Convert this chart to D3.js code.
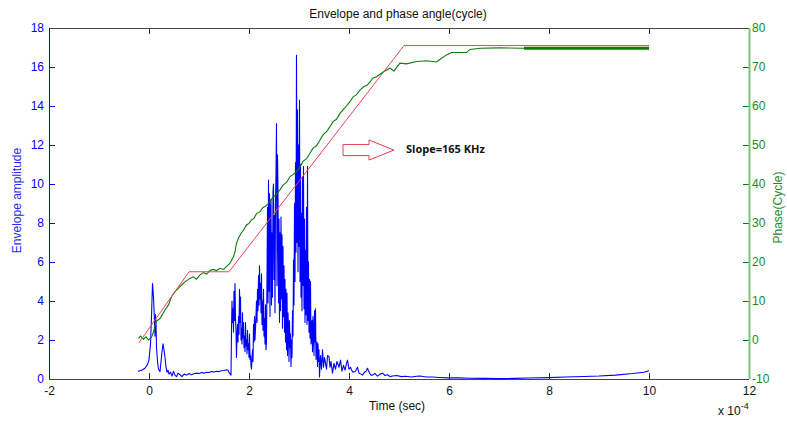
<!DOCTYPE html>
<html><head><meta charset="utf-8">
<script src="https://cdn.jsdelivr.net/npm/d3@7"></script>
<style>
html,body{margin:0;padding:0;background:#fff;}
svg{display:block;font-family:"Liberation Sans",Arial,sans-serif;}
</style></head>
<body>
<svg id="chart" width="787" height="426"></svg>
<script>
// ---------- data (time in units of 1e-4 s) ----------
const xTicks = [-2,0,2,4,6,8,10,12];
const yLeftTicks = [0,2,4,6,8,10,12,14,16,18];
const yRightTicks = [-10,0,10,20,30,40,50,60,70,80];

// envelope amplitude (blue, left axis)
const envT = [-0.22,-0.15,-0.08,-0.03,0.00,0.03,0.05,0.07,0.09,0.10,0.12,0.13,0.14,0.15,0.17,0.19,0.22,0.24,0.26,0.28,0.30,0.32,0.34,0.36,0.38,0.40,0.43,0.46,0.49,0.52,0.55,0.58,0.62,0.66,0.70,0.75,0.80,0.85,0.90,0.95,1.00,1.05,1.10,1.15,1.20,1.25,1.30,1.35,1.40,1.45,1.50,1.55,1.58,1.61,
  1.64,1.65,1.66,1.67,1.68,1.69,1.70,1.71,1.72,1.73,1.74,1.75,1.76,1.77,1.78,1.79,1.80,1.81,1.82,1.83,1.84,1.85,1.86,1.87,1.88,1.89,1.90,1.91,1.92,1.93,1.94,1.95,1.96,1.97,1.98,1.99,
  2.00,2.01,2.02,2.03,2.04,2.05,2.06,2.07,2.08,2.09,2.10,2.11,2.12,2.13,2.14,2.15,2.16,2.17,2.18,2.19,2.20,2.21,2.22,2.23,2.24,2.25,2.26,2.27,2.28,2.29,2.30,2.31,2.32,2.33,2.34,
  2.35,2.36,2.37,2.38,2.39,2.40,2.41,2.42,2.43,2.44,2.45,2.46,2.47,2.48,2.49,2.50,2.51,2.52,2.53,2.54,2.55,2.56,2.57,2.58,2.59,2.60,2.61,2.62,2.63,2.64,2.65,2.66,2.67,2.68,2.69,2.70,2.71,2.72,2.73,2.74,2.75,2.76,2.77,2.78,2.79,2.80,2.81,2.82,2.83,2.84,2.85,2.86,2.87,2.88,2.89,2.90,2.91,2.92,2.93,2.94,2.95,2.96,2.97,2.98,2.99,
  3.00,3.01,3.02,3.03,3.04,3.05,3.06,3.07,3.08,3.09,3.10,3.11,3.12,3.13,3.14,3.15,3.16,3.17,3.18,3.19,3.20,3.21,3.22,3.23,3.24,3.25,3.26,3.27,3.28,3.29,3.30,3.31,3.32,3.33,3.34,3.35,3.36,3.37,3.38,3.39,3.40,3.41,3.43,3.45,3.47,3.49,3.51,3.53,3.55,3.57,3.60,3.62,3.64,3.67,3.70,3.73,3.76,3.80,3.83,3.86,3.89,3.92,3.95,3.97,
  4.00,4.03,4.05,4.08,4.12,4.15,4.17,4.20,4.24,4.27,4.31,4.34,4.37,4.41,4.44,4.47,4.52,4.57,4.62,4.67,4.72,4.77,4.82,4.87,4.95,5.05,5.13,5.25,5.35,5.42,5.55,5.67,5.80,6.00,6.20,6.40,6.70,7.00,7.30,7.60,8.00,8.33,8.70,9.00,9.33,9.67,9.90,10.00];
const envV = [0.38,0.45,0.55,0.75,0.97,1.8,3.2,4.9,4.2,3.6,2.2,3.3,2.9,1.6,0.9,0.5,0.38,0.9,1.4,1.8,1.5,1.1,0.6,0.35,0.45,0.25,0.35,0.15,0.4,0.2,0.12,0.3,0.22,0.12,0.25,0.2,0.28,0.22,0.27,0.3,0.28,0.33,0.3,0.35,0.33,0.38,0.36,0.4,0.38,0.42,0.44,0.47,0.45,0.3,
  0.2,2.5,4.0,2.9,3.6,2.4,4.5,3.0,4.9,3.1,2.5,1.1,2.2,2.8,1.9,3.2,2.3,4.6,2.9,4.2,2.0,2.6,1.8,3.4,2.1,2.9,1.6,2.2,1.4,2.9,1.7,2.0,1.3,2.5,1.5,1.8,
  1.1,2.3,1.0,1.2,0.7,0.5,1.1,1.5,0.9,2.8,1.9,3.2,2.0,2.6,3.3,4.0,2.9,4.6,3.5,5.3,3.8,5.8,4.1,4.9,3.4,5.4,2.8,4.0,2.5,4.6,2.2,3.1,1.8,3.8,1.5,
  2.0,5.2,8.8,3.9,10.2,4.5,9.5,3.2,8.7,9.2,3.8,7.5,4.2,9.6,10.0,5.1,8.4,3.4,9.0,10.5,13.1,4.8,11.5,9.7,3.9,8.2,2.9,7.5,3.5,8.3,4.1,7.4,2.6,6.8,3.2,5.8,2.4,5.1,1.9,4.6,1.5,4.4,1.2,3.4,2.6,0.9,3.0,1.6,2.3,0.64,2.0,1.1,3.5,2.2,6.1,3.8,9.0,5.0,11.1,6.5,16.6,7.0,13.8,5.5,12.0,
  6.8,14.3,5.0,11.0,4.2,8.5,3.5,10.4,4.8,10.9,3.6,8.2,2.9,6.6,3.3,8.8,2.8,10.9,3.0,6.0,2.4,5.1,2.1,5.0,1.8,2.0,3.0,1.4,3.2,2.4,1.2,3.5,1.9,3.6,1.0,1.5,1.9,0.64,1.8,0.9,1.5,0.1,1.2,0.5,1.5,0.6,1.1,0.8,0.5,1.2,1.15,0.6,0.9,0.3,0.8,0.5,0.9,0.6,0.97,0.4,0.7,0.46,0.8,0.97,
  0.5,0.6,0.46,0.35,0.37,0.5,0.6,0.3,0.25,0.2,0.35,0.4,0.55,0.3,0.2,0.2,0.28,0.15,0.25,0.3,0.18,0.22,0.12,0.15,0.18,0.12,0.14,0.1,0.14,0.15,0.1,0.1,0.08,0.06,0.06,0.04,0.03,0.02,0.03,0.05,0.07,0.1,0.13,0.15,0.2,0.28,0.35,0.42];

// measured phase (green, right axis)
const phaseT = [-0.21,-0.17,-0.11,-0.06,-0.01,0.05,0.09,0.14,0.22,0.32,0.39,0.45,0.52,0.59,0.65,0.72,0.82,0.89,0.95,1.02,1.09,1.15,1.22,1.29,1.35,1.42,1.49,1.55,1.62,1.69,
  1.72,1.75,1.80,1.85,1.89,1.95,2.00,2.05,2.10,2.15,2.22,2.28,2.33,2.39,2.44,2.49,2.55,2.62,2.68,2.75,2.82,2.88,2.95,3.02,3.08,3.15,3.22,3.28,3.35,3.42,3.48,3.55,3.62,3.68,3.75,3.82,3.88,3.95,4.02,4.08,4.15,4.22,4.30,4.36,4.42,4.48,4.55,
  4.69,4.82,4.90,5.02,5.15,5.35,5.55,5.75,5.82,5.95,6.05,6.35,6.42,6.62,7.00,7.50,8.00,8.50,9.00,9.50,10.00];
const phaseV = [0.4,1.0,0.2,0.8,0.0,0.7,2.1,4.7,5.5,7.7,9.0,11.1,12.4,13.3,14.1,14.9,15.8,16.2,15.6,16.7,17.3,16.9,17.8,18.1,17.8,18.4,18.1,18.8,19.7,21.4,
  22.6,24.8,26.4,27.5,28.2,29.5,29.9,30.8,31.2,32.4,32.9,34.0,34.3,35.0,36.0,36.7,37.4,38.5,39.7,40.4,41.9,42.4,43.2,44.4,45.8,46.5,47.9,49.2,49.8,51.3,52.6,53.4,54.7,56.0,56.6,58.1,59.0,60.0,61.1,62.3,62.9,64.1,65.0,65.3,66.2,67.2,67.5,
  68.8,69.7,69.0,71.0,70.8,71.4,71.6,71.3,72.0,73.1,73.7,73.7,74.5,74.8,74.9,74.8,74.8,74.8,74.8,74.8,74.8];
const phaseThickFrom = 7.5;

// linear phase model (red, right axis)
const modelT = [-0.2,0.8,1.6,5.1,10.0];
const modelV = [-0.7,17.5,17.5,75.5,75.5];

// annotation
const slopeText = "Slope=165 KHz";
const arrowAt = {t0:3.88, t1:4.4, t2:4.9, v:11.74};

// ---------- chart ----------
const svg = d3.select("#chart");
const L=49,R=749,T=28,B=379;
const x = d3.scaleLinear().domain([-2,12]).range([L,R]);
const yL = d3.scaleLinear().domain([0,18]).range([B,T]);
const yR = d3.scaleLinear().domain([-10,80]).range([B,T]);
const font = '"Liberation Sans",Arial,sans-serif';
const fmt = d => String(d);

// title
svg.append("text").attr("x",398).attr("y",18).attr("text-anchor","middle")
  .attr("font-size",12).attr("fill","#111").text("Envelope and phase angle(cycle)");

// bottom axis
const gB = svg.append("g").attr("transform",`translate(0,${B})`)
  .call(d3.axisBottom(x).tickValues(xTicks).tickFormat(fmt).tickSizeInner(-6).tickSizeOuter(0).tickPadding(7));
gB.select(".domain").remove();
gB.selectAll("line").attr("stroke","#333");
gB.selectAll("text").attr("font-size",12).attr("font-family",font).attr("fill","#111");
// top axis ticks
const gT = svg.append("g").attr("transform",`translate(0,${T})`)
  .call(d3.axisTop(x).tickValues(xTicks.slice(1,-1)).tickSizeInner(-6).tickSizeOuter(0).tickFormat(""));
gT.select(".domain").remove();
gT.selectAll("line").attr("stroke","#333");
// left axis
const gL = svg.append("g").attr("transform",`translate(${L},0)`)
  .call(d3.axisLeft(yL).tickValues(yLeftTicks).tickFormat(fmt).tickSizeInner(-6).tickSizeOuter(0).tickPadding(5));
gL.select(".domain").remove();
gL.selectAll("line").attr("stroke","#0000ff");
gL.selectAll("text").attr("font-size",12).attr("font-family",font).attr("fill","#0000ff");
// right axis
const gR = svg.append("g").attr("transform",`translate(${R},0)`)
  .call(d3.axisRight(yR).tickValues(yRightTicks).tickFormat(fmt).tickSizeInner(-6).tickSizeOuter(0).tickPadding(3));
gR.select(".domain").remove();
gR.selectAll("line").attr("stroke","#008000");
gR.selectAll("text").attr("font-size",12).attr("font-family",font).attr("fill","#1a8a1a");

// frame lines
svg.append("line").attr("x1",L).attr("x2",R).attr("y1",T+0.5).attr("y2",T+0.5).attr("stroke","#444");
svg.append("line").attr("x1",L).attr("x2",R).attr("y1",B+0.5).attr("y2",B+0.5).attr("stroke","#444");
svg.append("line").attr("x1",L+0.5).attr("x2",L+0.5).attr("y1",T).attr("y2",B).attr("stroke","#0000ff");
svg.append("line").attr("x1",R+0.5).attr("x2",R+0.5).attr("y1",T).attr("y2",B).attr("stroke","#7cc47c").attr("stroke-width",2);

// axis titles
svg.append("text").attr("transform",`translate(21,${(T+B)/2-3}) rotate(-90)`).attr("text-anchor","middle")
  .attr("font-size",12).attr("fill","#2a2aff").text("Envelope amplitude");
svg.append("text").attr("transform",`translate(782,${(T+B)/2+4}) rotate(-90)`).attr("text-anchor","middle")
  .attr("font-size",12).attr("fill","#1a8a1a").text("Phase(Cycle)");
svg.append("text").attr("x",397).attr("y",410).attr("text-anchor","middle")
  .attr("font-size",12).attr("fill","#111").text("Time (sec)");
const xm = svg.append("text").attr("x",718).attr("y",415).attr("font-size",12).attr("fill","#111");
xm.append("tspan").text("x 10");
xm.append("tspan").attr("dy",-6).attr("font-size",9).text("-4");

// lines
const envData = envT.map((t,i)=>[t,envV[i]]);
const phaseData = phaseT.map((t,i)=>[t,phaseV[i]]);
const modelData = modelT.map((t,i)=>[t,modelV[i]]);
const lineL = d3.line().x(d=>x(d[0])).y(d=>yL(d[1]));
const lineR = d3.line().x(d=>x(d[0])).y(d=>yR(d[1]));

svg.append("path").datum(envData).attr("d",lineL).attr("fill","none")
  .attr("stroke","#0000ff").attr("stroke-width",1.1).attr("stroke-linejoin","round");
svg.append("path").datum(phaseData).attr("d",lineR).attr("fill","none")
  .attr("stroke","#0a7d0a").attr("stroke-width",1.1);
svg.append("path").datum(phaseData.filter(d=>d[0]>=phaseThickFrom)).attr("d",lineR).attr("fill","none")
  .attr("stroke","#0a7d0a").attr("stroke-width",3);
svg.append("path").datum(modelData).attr("d",lineR).attr("fill","none")
  .attr("stroke","#ee4455").attr("stroke-width",1);

// annotation arrow + text
const ay = yL(arrowAt.v);
const ax0=x(arrowAt.t0), ax1=x(arrowAt.t1), ax2=x(arrowAt.t2);
svg.append("polygon")
  .attr("points",[[ax0,ay-5.5],[ax1,ay-5.5],[ax1,ay-10],[ax2,ay],[ax1,ay+10],[ax1,ay+5.5],[ax0,ay+5.5]].map(p=>p.join(",")).join(" "))
  .attr("fill","#fff").attr("stroke","#e0404f").attr("stroke-width",1);
svg.append("text").attr("x",x(5.14)).attr("y",yL(11.6)).attr("font-size",11).attr("font-weight","bold")
  .attr("font-family",'"Open Sans","Liberation Sans",sans-serif').attr("fill","#111").text(slopeText);
</script>
</body></html>
